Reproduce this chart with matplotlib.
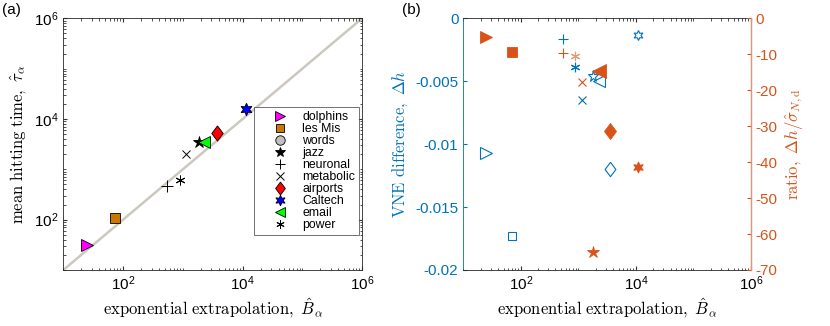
import numpy as np
import matplotlib
matplotlib.use("Agg")
import matplotlib.pyplot as plt
from matplotlib.ticker import LogLocator, NullFormatter, FixedLocator, FixedFormatter

# ===================== config =====================
plt.rcParams['font.family'] = ['Liberation Sans', 'DejaVu Sans']
plt.rcParams['mathtext.fontset'] = 'cm'
plt.rcParams['axes.unicode_minus'] = False
plt.rcParams['font.size'] = 10

BLUE = "#0072BD"
ORANGE = "#D95319"

# ===================== data =====================
names = ["dolphins", "les Mis", "words", "jazz", "neuronal",
         "metabolic", "airports", "Caltech", "email", "power"]

# panel (a): exponential extrapolation B vs mean hitting time tau
B_hat = [24.6, 72, np.nan, 1840, 537, 1150, 3670, 11200, 2250, 890]
tau_hat = [31, 110, np.nan, 3480, 464, 2000, 5380, 15600, 3420, 611]

# panel (b): VNE difference (left axis) and ratio (right axis)
B_hat_b = [24.8, 70, np.nan, 1820, 536, 1160, 3550, 10700, 2260, 865]
vne_diff = [-0.0107, -0.0173, np.nan, -0.0046, -0.00167, -0.0065,
            -0.0120, -0.00133, -0.0050, -0.00385]
ratio = [-5.3, -9.4, np.nan, -65.1, -9.7, -17.7, -31.3, -41.3, -14.6, -10.4]

# marker styles for each network (MATLAB-like diamond: a bit taller than wide)
DIAMOND = [(0, 1), (0.75, 0), (0, -1), (-0.75, 0), (0, 1)]
markers = [">", "s", "o", "*", "+", "x", DIAMOND, (6, 1, 0), "<", (6, 2, 0)]
face_a = ["#FF00FF", "#CC7700", "#C0C0C0", "black", "black", "black",
          "red", "blue", "#00FF00", "black"]
size_a = [9, 7, 8, 9, 8, 6, 11, 9, 8.5, 7]
size_b = [9, 7, 8, 9, 8, 6, 11.5, 8, 10, 8]
LINE_MARKERS = ("+", "x", (6, 2, 0))

TICKS = [1e2, 1e4, 1e6]
TICK_LABELS = [r"$\mathdefault{10^{2}}$", r"$\mathdefault{10^{4}}$", r"$\mathdefault{10^{6}}$"]


def is_line_marker(m):
    return isinstance(m, (str, tuple)) and m in LINE_MARKERS


def log_ticks(axis):
    axis.set_major_locator(FixedLocator(TICKS))
    axis.set_major_formatter(FixedFormatter(TICK_LABELS))
    axis.set_minor_locator(LogLocator(base=10, subs=np.arange(1, 10), numticks=20))
    axis.set_minor_formatter(NullFormatter())


# ===================== figure =====================
fig = plt.figure(figsize=(8.3, 3.26), dpi=100)
ax1 = fig.add_axes([0.0763, 0.1718, 0.360, 0.772])
ax2 = fig.add_axes([0.5582, 0.1718, 0.3466, 0.772])

# ---- (a) ----
ax1.plot([10, 1e6], [10, 1e6], color="#CCC8C0", lw=1.8, zorder=1)
handles = []
for i, n in enumerate(names):
    kw = dict(marker=markers[i], ms=size_a[i], ls="none", label=n)
    if is_line_marker(markers[i]):
        kw.update(color="black", mew=0.7)
    else:
        kw.update(mfc=face_a[i], mec="black", mew=0.6)
    h, = ax1.plot([B_hat[i]], [tau_hat[i]], zorder=3, **kw)
    handles.append(h)

ax1.set_xscale("log")
ax1.set_yscale("log")
ax1.set_xlim(10, 1e6)
ax1.set_ylim(10, 1e6)
log_ticks(ax1.xaxis)
log_ticks(ax1.yaxis)
ax1.tick_params(which="both", direction="in", top=True, right=True, labelsize=11, color="#333333")
ax1.tick_params(which="major", length=3)
ax1.tick_params(which="minor", length=1.8)
for s in ax1.spines.values():
    s.set_color("#262626")
    s.set_linewidth(0.6)
ax1.set_xlabel(r"$\mathrm{exponential\ extrapolation,}\ \hat{B}_\alpha$", fontsize=12, labelpad=2)
ax1.set_ylabel(r"$\mathrm{mean\ hitting\ time,}\ \hat{\tau}_\alpha$", fontsize=12, labelpad=4)

leg = ax1.legend(handles=handles, loc="upper left", bbox_to_anchor=(0.638, 0.648),
                 borderaxespad=0, fontsize=8.8, frameon=True, fancybox=False,
                 labelspacing=0.0, handletextpad=0.1, handlelength=3.5,
                 borderpad=0.35, markerscale=0.85)
leg.get_frame().set_edgecolor("#333333")
leg.get_frame().set_linewidth(0.6)

# ---- (b) ----
ax3 = ax2.twinx()
for i, n in enumerate(names):
    if is_line_marker(markers[i]):
        ax2.plot([B_hat_b[i]], [vne_diff[i]], marker=markers[i], ms=size_b[i] * 0.85,
                 ls="none", color=BLUE, mew=0.8)
        ax3.plot([B_hat_b[i]], [ratio[i]], marker=markers[i], ms=size_b[i] * 0.85,
                 ls="none", color=ORANGE, mew=0.8,
                 alpha=0.6 if n == "power" else 1.0)
    else:
        ax2.plot([B_hat_b[i]], [vne_diff[i]], marker=markers[i], ms=size_b[i] * 0.9,
                 ls="none", mfc="none", mec=BLUE, mew=0.8)
        ax3.plot([B_hat_b[i]], [ratio[i]], marker=markers[i], ms=size_b[i],
                 ls="none", mfc=ORANGE, mec=ORANGE, mew=0.6)

ax2.set_xscale("log")
ax2.set_xlim(10, 1e6)
ax2.set_ylim(-0.02, 0)
ax3.set_ylim(-70, 0)
log_ticks(ax2.xaxis)
ax2.set_yticks([0, -0.005, -0.01, -0.015, -0.02])
ax2.set_yticklabels(["0", "-0.005", "-0.01", "-0.015", "-0.02"])
ax3.set_yticks(np.arange(0, -71, -10))
ax3.set_yticklabels([str(v) for v in range(0, -71, -10)])

ax2.tick_params(which="both", direction="in", top=True, labelsize=11, color="#333333")
ax2.tick_params(which="major", length=3)
ax2.tick_params(which="minor", length=1.8)
ax2.tick_params(axis="y", colors=BLUE, labelcolor=BLUE)
ax3.tick_params(axis="y", direction="in", length=3, colors=ORANGE, labelcolor=ORANGE, labelsize=11)
for s in ("top", "bottom"):
    ax2.spines[s].set_color("#262626")
    ax2.spines[s].set_linewidth(0.6)
ax2.spines["left"].set_color(BLUE)
ax2.spines["left"].set_linewidth(0.6)
ax3.spines["right"].set_color("#E89070")
ax3.spines["right"].set_linewidth(0.8)
for s in ("left", "top", "bottom"):
    ax3.spines[s].set_visible(False)

ax2.set_xlabel(r"$\mathrm{exponential\ extrapolation,}\ \hat{B}_\alpha$", fontsize=12, labelpad=2)
ax2.set_ylabel(r"$\mathrm{VNE\ difference,}\ \Delta h$", fontsize=12, color=BLUE, labelpad=4)
ax3.set_ylabel(r"$\mathrm{ratio,}\ \Delta h/\hat{\sigma}_{N,\mathrm{d}}$", fontsize=12,
               color=ORANGE, labelpad=4)

# panel labels
fig.text(0.003, 0.968, "(a)", fontsize=11, va="center", ha="left")
fig.text(0.484, 0.968, "(b)", fontsize=11, va="center", ha="left")

plt.savefig("out.png", dpi=100)
